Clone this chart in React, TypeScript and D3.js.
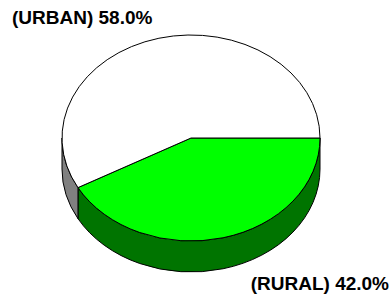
import React from "react";
import * as d3 from "d3";

const categories = ["RURAL", "URBAN"];
const values = [42.0, 58.0];
const topColors = ["#00ff00", "#ffffff"];
const sideColors = ["#007400", "#808080"];

const W = 391;
const H = 298;
const cx = 191;
const cy = 138;
const rx = 129;
const ry = 103;
const depth = 31;

const pt = (a: number, dy = 0): [number, number] => [
  cx + rx * Math.cos(a),
  cy + dy + ry * Math.sin(a),
];

const topPath = (a0: number, a1: number) => {
  const p0 = pt(a0);
  const p1 = pt(a1);
  const large = a1 - a0 > Math.PI ? 1 : 0;
  return `M${cx},${cy}L${p0[0]},${p0[1]}A${rx},${ry} 0 ${large} 1 ${p1[0]},${p1[1]}Z`;
};

// outer wall, only the front half (0..PI) is visible
const sidePath = (a0: number, a1: number) => {
  const s = Math.max(a0, 0);
  const e = Math.min(a1, Math.PI);
  if (e <= s) return null;
  const p0 = pt(s);
  const p1 = pt(e);
  const q1 = pt(e, depth);
  const q0 = pt(s, depth);
  return `M${p0[0]},${p0[1]}A${rx},${ry} 0 0 1 ${p1[0]},${p1[1]}L${q1[0]},${q1[1]}A${rx},${ry} 0 0 0 ${q0[0]},${q0[1]}Z`;
};

export default function App() {
  const arcs = d3
    .pie<number>()
    .sort(null)
    .startAngle(0)
    .endAngle(2 * Math.PI)(values);

  const total = d3.sum(values);
  const fmt = (v: number) => `${d3.format(".1f")((v / total) * 100)}%`;

  return (
    <svg width={W} height={H} style={{ position: "absolute", left: 0, top: 0 }}>
      <rect width={W} height={H} fill="#fff" />
      {arcs.map((d, i) => {
        const p = sidePath(d.startAngle, d.endAngle);
        return p ? (
          <path key={"s" + i} d={p} fill={sideColors[i]} stroke="#000" strokeWidth={1} />
        ) : null;
      })}
      {arcs.map((d, i) => (
        <path
          key={"t" + i}
          d={topPath(d.startAngle, d.endAngle)}
          fill={topColors[i]}
          stroke="#000"
          strokeWidth={1}
        />
      ))}
      <g fontFamily="'Liberation Sans', Arial, sans-serif" fontWeight="bold" fontSize={19} fill="#000">
        <text x={12} y={24}>
          ({categories[1]}) {fmt(values[1])}
        </text>
        <text x={389} y={290} textAnchor="end">
          ({categories[0]}) {fmt(values[0])}
        </text>
      </g>
    </svg>
  );
}
